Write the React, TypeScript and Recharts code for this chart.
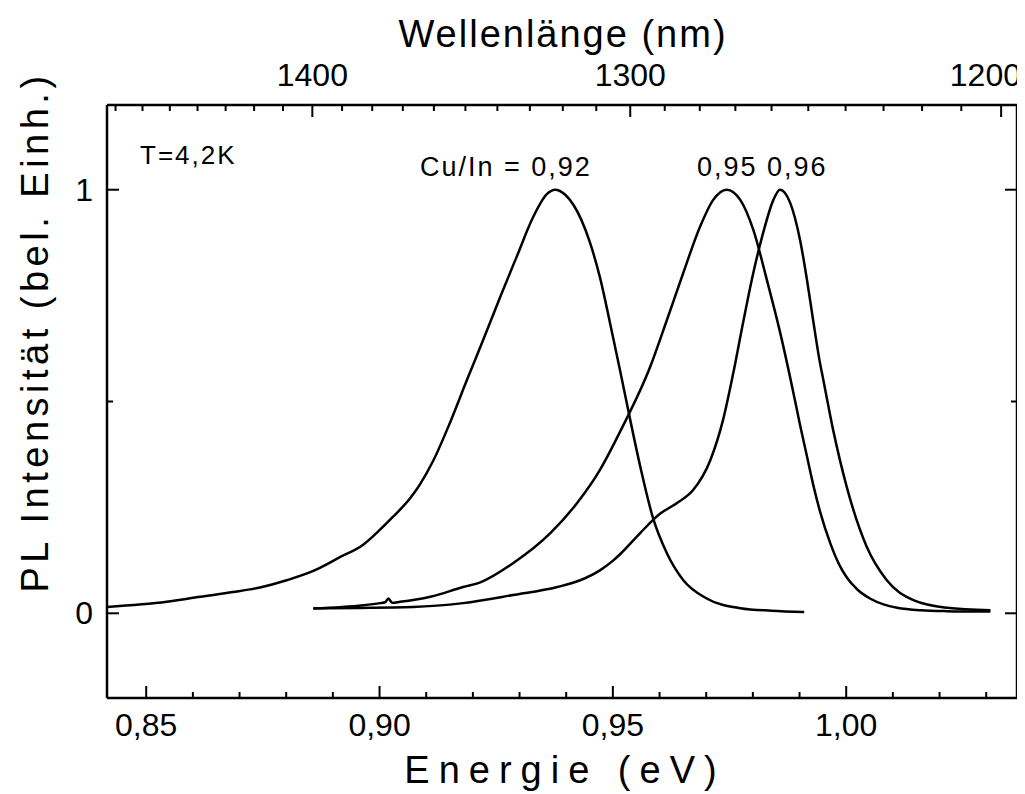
import React from 'react';
import { LineChart, Line, XAxis, YAxis } from 'recharts';

const E_MIN = 0.8416;
const E_MAX = 1.0366;
const HC = 1239.84;

const energyTicks = [0.85, 0.86, 0.87, 0.88, 0.89, 0.9, 0.91, 0.92, 0.93, 0.94, 0.95, 0.96, 0.97, 0.98, 0.99, 1.0, 1.01, 1.02, 1.03];
const energyMajor = [0.85, 0.9, 0.95, 1.0];
const wavelengthTicks = [1470, 1460, 1450, 1440, 1430, 1420, 1410, 1400, 1390, 1380, 1370, 1360, 1350, 1340, 1330, 1320, 1310, 1300, 1290, 1280, 1270, 1260, 1250, 1240, 1230, 1220, 1210, 1200];
const wavelengthMajor = [1400, 1300, 1200];
const intensityTicks = [0, 0.5, 1];
const intensityMajor = [0, 1];

const e092 = [0.8416, 0.8544, 0.8616, 0.8686, 0.8744, 0.8801, 0.8858, 0.8916, 0.8965, 0.8994, 0.9029, 0.9066, 0.9087, 0.9115, 0.9151, 0.9187, 0.9222, 0.9259, 0.9294, 0.9329, 0.9359, 0.9376, 0.9398, 0.9415, 0.9432, 0.9451, 0.9473, 0.9494, 0.9516, 0.953, 0.9559, 0.9586, 0.9616, 0.9651, 0.9701, 0.9773, 0.984, 0.991];
const i092 = [0.015, 0.027, 0.039, 0.05, 0.061, 0.078, 0.1, 0.133, 0.162, 0.19, 0.228, 0.272, 0.305, 0.36, 0.45, 0.55, 0.645, 0.748, 0.842, 0.935, 0.99, 1.0, 0.988, 0.965, 0.93, 0.875, 0.79, 0.685, 0.57, 0.495, 0.345, 0.225, 0.141, 0.078, 0.035, 0.012, 0.006, 0.003];

const e095 = [0.8858, 0.8965, 0.9001, 0.9012, 0.9019, 0.9027, 0.9044, 0.9109, 0.9179, 0.9216, 0.9286, 0.9366, 0.9423, 0.9473, 0.9516, 0.958, 0.9616, 0.9651, 0.9687, 0.9715, 0.9744, 0.9773, 0.9801, 0.983, 0.9858, 0.9886, 0.9901, 0.9916, 0.9929, 0.9944, 0.9966, 0.9985, 1.0001, 1.0025, 1.0051, 1.008, 1.0109, 1.016, 1.0216, 1.0309];
const i095 = [0.011, 0.019, 0.024, 0.026, 0.035, 0.025, 0.027, 0.039, 0.062, 0.073, 0.118, 0.189, 0.26, 0.34, 0.43, 0.582, 0.693, 0.804, 0.913, 0.976, 1.0, 0.976, 0.905, 0.787, 0.665, 0.525, 0.445, 0.37, 0.305, 0.24, 0.165, 0.115, 0.085, 0.055, 0.035, 0.021, 0.013, 0.007, 0.005, 0.004];

const e096 = [0.8858, 0.9072, 0.9179, 0.9286, 0.9381, 0.943, 0.9473, 0.9501, 0.9516, 0.9559, 0.9601, 0.963, 0.9644, 0.9672, 0.9709, 0.9736, 0.9758, 0.9779, 0.9801, 0.9822, 0.9844, 0.9858, 0.988, 0.9901, 0.9916, 0.9929, 0.9944, 0.9951, 0.9972, 1.0001, 1.0044, 1.0087, 1.0144, 1.0216, 1.0309];
const i096 = [0.012, 0.015, 0.024, 0.043, 0.062, 0.078, 0.102, 0.125, 0.14, 0.19, 0.235, 0.255, 0.265, 0.291, 0.362, 0.456, 0.567, 0.686, 0.804, 0.898, 0.976, 1.0, 0.969, 0.882, 0.787, 0.693, 0.59, 0.551, 0.433, 0.299, 0.157, 0.078, 0.031, 0.013, 0.007];

const zip = (e: number[], i: number[]) => e.map((v, k) => ({ e: v, i: i[k] }));
const data092 = zip(e092, i092);
const data095 = zip(e095, i095);
const data096 = zip(e096, i096);

const FONT = '"Liberation Sans", Arial, sans-serif';
const MAJ = 12;
const MIN = 6;
const TICK_FS = 32;
const W = 1017;
const H = 786;

const isIn = (arr: number[], v: number) => arr.some((m) => Math.abs(m - v) < 1e-6);

const BottomTick = (props: any) => {
  const { x, y, payload } = props;
  const v = payload.value;
  const major = isIn(energyMajor, v);
  return (
    <g>
      <line x1={x} x2={x} y1={y} y2={y - (major ? MAJ : MIN)} stroke="#000" strokeWidth={2} />
      {major && (
        <text x={x} y={y + 38} textAnchor="middle" fontSize={TICK_FS} fontFamily={FONT} fill="#000">
          {v.toFixed(2).replace('.', ',')}
        </text>
      )}
    </g>
  );
};

const TopTick = (props: any) => {
  const { x, y, payload } = props;
  const lam = Math.round(HC / payload.value);
  const major = wavelengthMajor.includes(lam);
  const half = (String(lam).length * 0.556 * TICK_FS) / 2;
  const lx = Math.min(x, W - 4 - half);
  return (
    <g>
      <line x1={x} x2={x} y1={y} y2={y + (major ? MAJ : MIN)} stroke="#000" strokeWidth={2} />
      {major && (
        <text x={lx} y={y - 19} textAnchor="middle" fontSize={TICK_FS} fontFamily={FONT} fill="#000">
          {String(lam)}
        </text>
      )}
    </g>
  );
};

const LeftTick = (props: any) => {
  const { x, y, payload } = props;
  const v = payload.value;
  const major = isIn(intensityMajor, v);
  return (
    <g>
      <line x1={x} x2={x + (major ? MAJ : MIN)} y1={y} y2={y} stroke="#000" strokeWidth={2} />
      {major && (
        <text x={x - 14} y={y + 11} textAnchor="end" fontSize={TICK_FS} fontFamily={FONT} fill="#000">
          {String(v)}
        </text>
      )}
    </g>
  );
};

const RightTick = (props: any) => {
  const { x, y, payload } = props;
  const v = payload.value;
  const major = isIn(intensityMajor, v);
  return (
    <g>
      <line x1={x} x2={x - (major ? MAJ : MIN)} y1={y} y2={y} stroke="#000" strokeWidth={2} />
    </g>
  );
};

export default function App() {
  const axisLine = { stroke: '#000', strokeWidth: 2.5 };
  const wavelengthEnergies = wavelengthTicks.map((l) => HC / l);
  return (
    <div style={{ position: 'relative', width: W, height: H, background: '#fff' }}>
      <LineChart width={W} height={H} margin={{ top: 37, left: 29, right: 0, bottom: 36 }}>
        <XAxis
          xAxisId="bottom"
          orientation="bottom"
          type="number"
          dataKey="e"
          domain={[E_MIN, E_MAX]}
          allowDataOverflow
          ticks={energyTicks}
          interval={0}
          tickSize={0}
          tickMargin={0}
          tickLine={false}
          axisLine={axisLine}
          tick={BottomTick}
          height={60}
        />
        <XAxis
          xAxisId="top"
          orientation="top"
          type="number"
          dataKey="e"
          domain={[E_MIN, E_MAX]}
          allowDataOverflow
          ticks={wavelengthEnergies}
          interval={0}
          tickSize={0}
          tickMargin={0}
          tickLine={false}
          axisLine={axisLine}
          tick={TopTick}
          height={60}
        />
        <YAxis
          yAxisId="left"
          orientation="left"
          type="number"
          domain={[-0.2, 1.2]}
          allowDataOverflow
          ticks={intensityTicks}
          interval={0}
          tickSize={0}
          tickMargin={0}
          tickLine={false}
          axisLine={axisLine}
          tick={LeftTick}
          width={70}
        />
        <YAxis
          yAxisId="right"
          orientation="right"
          type="number"
          domain={[-0.2, 1.2]}
          allowDataOverflow
          ticks={intensityTicks}
          interval={0}
          tickSize={0}
          tickMargin={0}
          tickLine={false}
          axisLine={axisLine}
          tick={RightTick}
          width={8}
        />
        <Line xAxisId="bottom" yAxisId="left" data={data092} dataKey="i" type="monotone" stroke="#000" strokeWidth={2.5} dot={false} isAnimationActive={false} />
        <Line xAxisId="bottom" yAxisId="left" data={data095} dataKey="i" type="monotone" stroke="#000" strokeWidth={2.5} dot={false} isAnimationActive={false} />
        <Line xAxisId="bottom" yAxisId="left" data={data096} dataKey="i" type="monotone" stroke="#000" strokeWidth={2.5} dot={false} isAnimationActive={false} />
      </LineChart>
      <svg width={W} height={H} style={{ position: 'absolute', left: 0, top: 0, pointerEvents: 'none' }}>
        <text x={555} y={39} textAnchor="middle" fontSize={38} letterSpacing={2} fontFamily={FONT} fill="#000">Wellenlänge (nm)</text>
        <text x={557} y={775} textAnchor="middle" fontSize={38} letterSpacing={9} fontFamily={FONT} fill="#000">Energie (eV)</text>
        <text x={27} y={324} textAnchor="middle" dominantBaseline="central" fontSize={38} letterSpacing={4.5} fontFamily={FONT} fill="#000" transform="rotate(-90 27 324)">PL Intensität (bel. Einh.)</text>
        <text x={132} y={156} fontSize={26} letterSpacing={2} fontFamily={FONT} fill="#000">T=4,2K</text>
        <text x={412} y={168} fontSize={27} letterSpacing={2} fontFamily={FONT} fill="#000">Cu/In = 0,92</text>
        <text x={689} y={168} fontSize={27} letterSpacing={2} fontFamily={FONT} fill="#000">0,95 0,96</text>
      </svg>
    </div>
  );
}
